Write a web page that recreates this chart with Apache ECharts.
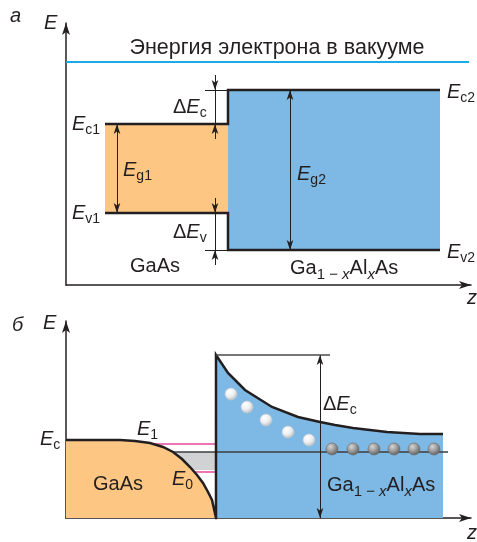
<!DOCTYPE html>
<html>
<head>
<meta charset="UTF-8">
<title>GaAs / Ga1-xAlxAs</title>
<script src="https://cdn.jsdelivr.net/npm/echarts@6/dist/echarts.min.js"></script>
<style>
  html, body { margin: 0; padding: 0; background: #fff; }
  #chart { width: 477px; height: 542px; }
</style>
</head>
<body>
<div id="chart"></div>
<script>
// панель а: z и E в условных единицах (ось z от 0 до 405)
var zGaAs   = [39, 162];
var zAlGaAs = [162, 374];
var vacZ    = [0, 403];
var eVac = 223;
var eC1 = 161, eV1 = 72;
var eC2 = 195, eV2 = 35;

// панель б: изгиб зон у гетерограницы
var bandGaAs = [[0,78],[54,78],[69,77],[84,75],[97,71],[107,66],[116,59],[124,51],[131,43],[137,35],[142,26],[146,18],[148,9],[150,0]];
var bandAlGaAs = [[150,163],[151,161],[162,145],[179,128],[206,111],[232,101],[254,96],[269,93],[287,90],[321,86],[354,84],[377,84]];
var eFermi = 66;
var e1 = 74, e0 = 46;
var grayBand = [48, 66];
var dEcTop = 163;
var hotElectrons = [[165,124],[181,111],[200,98],[222,86],[243,78]];
var gasElectrons = [[266,69],[287,69],[308,69],[328,69],[348,69],[368,69]];

var INK = '#231F20';
var ORANGE = '#FDC682';
var BLUE = '#7DB9E4';

var chart = echarts.init(document.getElementById('chart'), null, {renderer: 'canvas'});

// закрашенная область по точкам
function area(pts, color, g, z) {
    return {
        type: 'custom', xAxisIndex: g, yAxisIndex: g, z: z, silent: true,
        data: pts,
        renderItem: function (params, api) {
            if (params.dataIndex !== 0) return null;
            return {
                type: 'polygon',
                shape: { points: pts.map(function (p) { return api.coord(p); }) },
                style: { fill: color }
            };
        }
    };
}

function path(pts, color, width, g, z) {
    return {
        type: 'line', xAxisIndex: g, yAxisIndex: g, z: z, silent: true,
        data: pts, symbol: 'none', showSymbol: false,
        lineStyle: { color: color, width: width, cap: 'butt', join: 'miter' }
    };
}

// стрелки: [от, до, символ в начале, символ в конце]
function arrows(list, g) {
    return {
        type: 'line', xAxisIndex: g, yAxisIndex: g, z: 6, silent: true,
        data: [[0, 0]], symbol: 'none', lineStyle: { width: 0 },
        markLine: {
            silent: true, animation: false, precision: 4,
            label: { show: false },
            symbolSize: [5, 10],
            lineStyle: { color: INK, width: 1, type: 'solid' },
            emphasis: { disabled: true },
            data: list.map(function (a) {
                return [{ coord: a[0], symbol: a[2] || 'none' }, { coord: a[1], symbol: a[3] || 'none' }];
            })
        }
    };
}

function balls(pts, stops, border, g) {
    return {
        type: 'scatter', xAxisIndex: g, yAxisIndex: g, z: 8, silent: true,
        data: pts, symbolSize: 12,
        itemStyle: {
            color: new echarts.graphic.RadialGradient(0.38, 0.32, 0.7, stops),
            borderColor: border, borderWidth: 0.6, opacity: 1
        }
    };
}

// подписи: части текста подряд, с базовой линией
var cv = document.createElement('canvas').getContext('2d');
var FF = '"Liberation Sans", Arial, sans-serif';
function font(size, italic) { return (italic ? 'italic ' : '') + size + 'px ' + FF; }
var texts = [];
function label(x, base, parts) {
    parts.forEach(function (p) {
        var f = font(p[1], p[2]);
        cv.font = f;
        texts.push({
            type: 'text', x: x, y: base + (p[3] || 0) - 0.34 * p[1], z: 100, silent: true,
            style: { text: p[0], font: f, fill: INK, align: 'left', verticalAlign: 'middle' }
        });
        x += cv.measureText(p[0]).width;
    });
}
function Esub(x, base, s, delta) {
    var parts = [];
    if (delta) parts.push(['Δ', 20, false]);
    parts.push(['E', 20, true], [s, 14, false, 4]);
    label(x, base, parts);
}
function alloy(x, base) {
    label(x, base, [['Ga', 20], ['1 − ', 15, false, 5], ['x', 15, true, 5], ['Al', 20], ['x', 15, true, 5], ['As', 20]]);
}

// панель а
label(10, 23, [['а', 20, true]]);
label(44, 30, [['E', 20, true]]);
texts.push({ type: 'text', x: 277, y: 55 - 0.34 * 21.5, z: 100, silent: true,
    style: { text: 'Энергия электрона в вакууме', font: font(21.5, false), fill: INK, align: 'center', verticalAlign: 'middle' } });
Esub(72, 131, 'c1');
Esub(72, 220, 'v1');
Esub(123, 177, 'g1');
Esub(173, 114, 'c', true);
Esub(173, 239, 'v', true);
label(130, 273, [['GaAs', 20]]);
Esub(447, 99, 'c2');
Esub(447, 259, 'v2');
Esub(297, 181, 'g2');
alloy(290, 275);
label(467, 305, [['z', 20, true]]);

// панель б
label(12, 332, [['б', 20, true]]);
label(43, 330, [['E', 20, true]]);
Esub(40, 446, 'c');
Esub(137, 436, '1');
Esub(172, 486, '0');
label(93, 491, [['GaAs', 20]]);
Esub(323, 411, 'c', true);
alloy(327, 492);
label(467, 540, [['z', 20, true]]);

function axX(g, max) {
    return {
        gridIndex: g, type: 'value', min: 0, max: max,
        axisLine: { show: true, onZero: false, symbol: ['none', 'arrow'], symbolSize: [6, 12],
            lineStyle: { color: INK, width: 1.5 } },
        axisTick: { show: false }, axisLabel: { show: false }, splitLine: { show: false }
    };
}

var white = [{offset: 0, color: '#ffffff'}, {offset: 0.55, color: '#eceef0'}, {offset: 1, color: '#b9bec3'}];
var grey  = [{offset: 0, color: '#d6d6d6'}, {offset: 0.5, color: '#9c9c9c'}, {offset: 1, color: '#5f5f5f'}];

var option = {
    animation: false,
    grid: [
        { left: 66, top: 23, width: 405, height: 262 },
        { left: 66, top: 321, width: 405, height: 197 }
    ],
    xAxis: [axX(0, 405), axX(1, 405)],
    yAxis: [axX(0, 262), axX(1, 197)],
    graphic: texts,
    series: [
        // а
        area([[zAlGaAs[0], eV2], [zAlGaAs[1], eV2], [zAlGaAs[1], eC2], [zAlGaAs[0], eC2]], BLUE, 0, 1),
        area([[zGaAs[0], eV1], [zGaAs[1], eV1], [zGaAs[1], eC1], [zGaAs[0], eC1]], ORANGE, 0, 2),
        path([[vacZ[0], eVac], [vacZ[1], eVac]], '#1AACE4', 2, 0, 3),
        path([[zGaAs[0], eC1], [zGaAs[1], eC1], [zAlGaAs[0], eC2], [zAlGaAs[1], eC2]], INK, 2.5, 0, 4),
        path([[zGaAs[0], eV1], [zGaAs[1], eV1], [zAlGaAs[0], eV2], [zAlGaAs[1], eV2]], INK, 2.5, 0, 4),
        arrows([
            [[51, eC1], [51, eV1], 'arrow', 'arrow'],
            [[224, eC2], [224, eV2], 'arrow', 'arrow'],
            [[139, eC2], [zAlGaAs[0], eC2]],
            [[139, eV2], [zAlGaAs[0], eV2]],
            [[149, eC2 + 15], [149, eC2], 'none', 'arrow'],
            [[149, eC2], [149, eC1]],
            [[149, eC1 - 15], [149, eC1], 'none', 'arrow'],
            [[149, eV1 + 15], [149, eV1], 'none', 'arrow'],
            [[149, eV1], [149, eV2]],
            [[149, eV2 - 15], [149, eV2], 'none', 'arrow']
        ], 0),
        // б
        area([[150, 0]].concat(bandAlGaAs, [[bandAlGaAs[bandAlGaAs.length - 1][0], 0]]), BLUE, 1, 1),
        area([[100, grayBand[0]], [150, grayBand[0]], [150, grayBand[1]], [100, grayBand[1]]], '#D1D2D4', 1, 2),
        path([[80, e1], [150, e1]], '#E6489B', 1.5, 1, 3),
        path([[110, e0], [150, e0]], '#E6489B', 1.5, 1, 3),
        path([[100, eFermi], [382, eFermi]], '#3C3C3E', 1.5, 1, 3),
        area([[0, 0]].concat(bandGaAs), ORANGE, 1, 4),
        path(bandGaAs.concat(bandAlGaAs), INK, 2.5, 1, 5),
        path([[150, dEcTop], [264, dEcTop]], '#4a4a4a', 1.5, 1, 5),
        arrows([[[254, dEcTop], [254, 0], 'arrow', 'arrow']], 1),
        balls(hotElectrons, white, '#c5c9cd', 1),
        balls(gasElectrons, grey, '#6a6a6a', 1)
    ]
};
chart.setOption(option);
</script>
</body>
</html>
